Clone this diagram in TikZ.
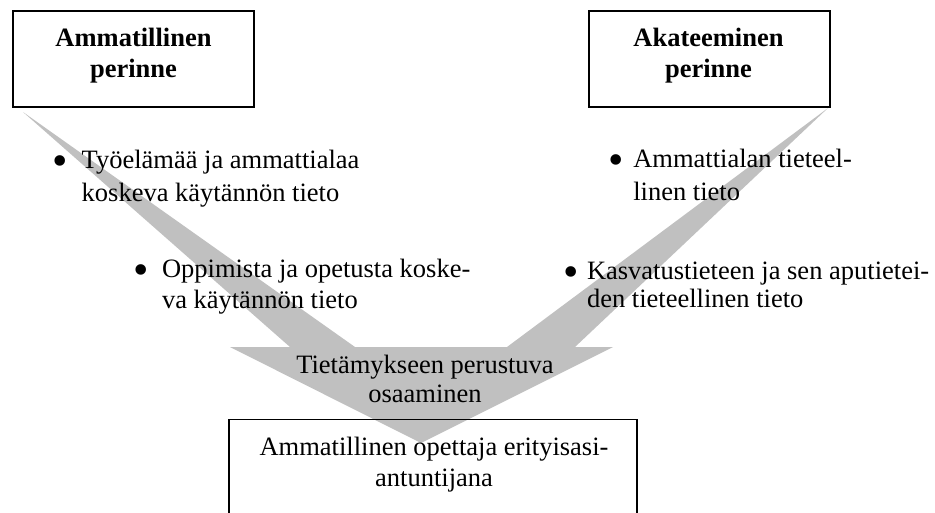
\documentclass[tikz,border=0pt]{standalone}
\usepackage{fontspec}
\setmainfont{Liberation Serif}
\definecolor{arrowgray}{RGB}{192,192,192}
\newcommand{\bigdot}[1]{\makebox[#1][l]{\raisebox{-7.3pt}{\fontsize{44}{30}\selectfont •}}}
\tikzset{
  framebox/.style={draw=black, line width=1.3pt, inner sep=0pt, minimum width=#1},
  txt/.style={inner sep=0pt, outer sep=0pt, font=\fontsize{26.5}{#1}\selectfont},
  txt/.default=30,
  flow/.style={fill=arrowgray}
}
\begin{document}
\begin{tikzpicture}[x=1pt,y=-1pt]
\useasboundingbox (0,0) rectangle (935,512);
\clip (0,0) rectangle (935,512);
% big V-shaped arrow
\fill[flow] (23,112) -- (355,347) -- (507,347) -- (828,108) -- (575,347) -- (613,347)
  -- (421,443) -- (230,347) -- (290,347) -- cycle;
% boxes
\node[framebox=241, minimum height=96] (lbox) at (133.5,59) {};
\node[framebox=241, minimum height=96] (rbox) at (709.5,59) {};
\node[framebox=408, minimum height=130, anchor=north] (target) at (433,419) {};
% box texts
\node[txt=30.3, anchor=base] (ltext) at (133.5,46.7)
  {\bfseries\begin{tabular}[t]{@{}c@{}}Ammatillinen\\perinne\end{tabular}};
\node[txt=30.3, anchor=base] (rtext) at (708.5,46.7)
  {\bfseries\begin{tabular}[t]{@{}c@{}}Akateeminen\\perinne\end{tabular}};
\node[txt=31, anchor=base] (ttext) at (434,455)
  {\begin{tabular}[t]{@{}c@{}}Ammatillinen opettaja erityisasi-\\antuntijana\end{tabular}};
% centre text
\node[txt=29.4, anchor=base] (ctext) at (425,373.3)
  {\begin{tabular}[t]{@{}c@{}}Tietämykseen perustuva\\osaaminen\end{tabular}};
% bullets
\node[txt=33, anchor=base west] (b1) at (52.8,168)
  {\begin{tabular}[t]{@{}l@{}l@{}}\bigdot{28.9pt}&Työelämää ja ammattialaa\\&koskeva käytännön tieto\end{tabular}};
\node[txt=33, anchor=base west] (b2) at (608.7,167)
  {\begin{tabular}[t]{@{}l@{}l@{}}\bigdot{24.6pt}&Ammattialan tieteel-\\&linen tieto\end{tabular}};
\node[txt=31, anchor=base west] (b3) at (133,277)
  {\begin{tabular}[t]{@{}l@{}l@{}}\bigdot{29pt}&Oppimista ja opetusta koske-\\&va käytännön tieto\end{tabular}};
\node[txt=28.5, anchor=base west] (b4) at (563,279)
  {\begin{tabular}[t]{@{}l@{}l@{}}\bigdot{24pt}&Kasvatustieteen ja sen aputietei-\\&den tieteellinen tieto\end{tabular}};
\end{tikzpicture}
\end{document}
